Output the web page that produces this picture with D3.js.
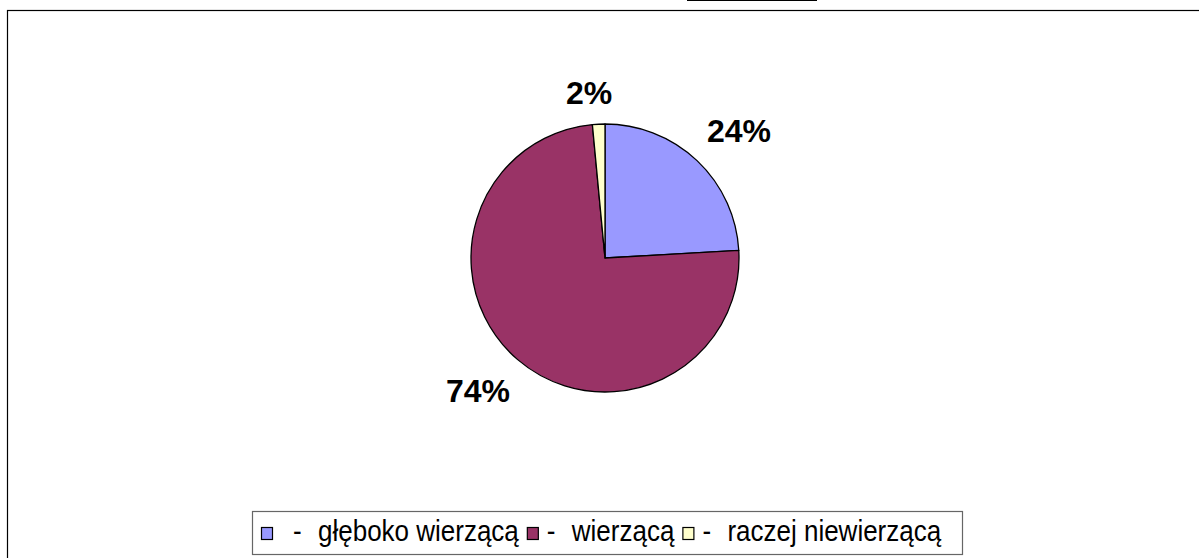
<!DOCTYPE html>
<html>
<head>
<meta charset="utf-8">
<script src="https://cdn.jsdelivr.net/npm/d3@7"></script>
<style>
  body { margin: 0; background: #fff; }
  svg { display: block; font-family: Arial, "Liberation Sans", sans-serif; }
</style>
</head>
<body>
<script>
// chart data
var categories = ["głęboko wierzącą", "wierzącą", "raczej niewierzącą"];
var values = [24.1, 74.4, 1.5];
var labels = ["24%", "74%", "2%"];
var colors = ["#9999FF", "#993366", "#FFFFCC"];

var width = 1199;
var height = 558;

var svg = d3.select("body").append("svg")
  .attr("width", width)
  .attr("height", height);

// outer chart frame (runs off the right and bottom edges)
svg.append("rect")
  .attr("x", 7.5).attr("y", 10.5)
  .attr("width", 1300).attr("height", 700)
  .attr("fill", "#fff")
  .attr("stroke", "#000")
  .attr("stroke-width", 1.2);

// stray line at the top edge
svg.append("line")
  .attr("x1", 687).attr("x2", 817)
  .attr("y1", 0.5).attr("y2", 0.5)
  .attr("stroke", "#000")
  .attr("stroke-width", 1.2);

var cx = 605, cy = 258, r = 134;

var pie = d3.pie().sort(null).value(function(d){ return d; });
var arcs = pie(values);
var arc = d3.arc().innerRadius(0).outerRadius(r);

var g = svg.append("g")
  .attr("transform", "translate(" + cx + "," + cy + ")");

g.selectAll("path")
  .data(arcs)
  .enter().append("path")
  .attr("d", arc)
  .attr("fill", function(d, i){ return colors[i]; })
  .attr("stroke", "#000")
  .attr("stroke-width", 1.3)
  .attr("stroke-linejoin", "round");

// percentage labels, pushed out until their box clears a ring around the pie
var ring = 152;
g.selectAll("text.lab")
  .data(arcs)
  .enter().append("text")
  .attr("class", "lab")
  .attr("text-anchor", "middle")
  .attr("font-size", 32)
  .attr("font-weight", "bold")
  .text(function(d, i){ return labels[i]; })
  .each(function(d){
    var t = d3.select(this);
    var w = this.getComputedTextLength();
    var h = 26;
    var a = (d.startAngle + d.endAngle) / 2;
    var s = Math.sin(a), c = Math.cos(a);
    var dist = ring + Math.abs(s) * w / 2 + Math.abs(c) * h / 2;
    var x = s * dist + (s < 0 ? -8 : 8);
    var y = -c * dist + c * Math.abs(s) * 12;
    t.attr("x", x).attr("y", y + 11.5);
  });

// legend
var legend = svg.append("g");
legend.append("rect")
  .attr("x", 252.5).attr("y", 511.5)
  .attr("width", 710).attr("height", 43)
  .attr("fill", "#fff")
  .attr("stroke", "#666")
  .attr("stroke-width", 1.2);

var lx = 261;
var baseline = 541;
categories.forEach(function(c, i){
  legend.append("rect")
    .attr("x", lx + 0.5).attr("y", 527.5)
    .attr("width", 11).attr("height", 12)
    .attr("fill", colors[i])
    .attr("stroke", "#000")
    .attr("stroke-width", 1.2);
  var dx = i === 0 ? 32 : 20;
  legend.append("text")
    .attr("transform", "translate(" + (lx + dx) + "," + baseline + ") scale(1,1.12)")
    .attr("font-size", 26)
    .text("-");
  var t = legend.append("text")
    .attr("transform", "translate(" + (lx + dx + 25) + "," + baseline + ") scale(1,1.12)")
    .attr("font-size", 26)
    .text(c);
  lx = lx + dx + 25 + t.node().getComputedTextLength() + 8;
});
</script>
</body>
</html>
